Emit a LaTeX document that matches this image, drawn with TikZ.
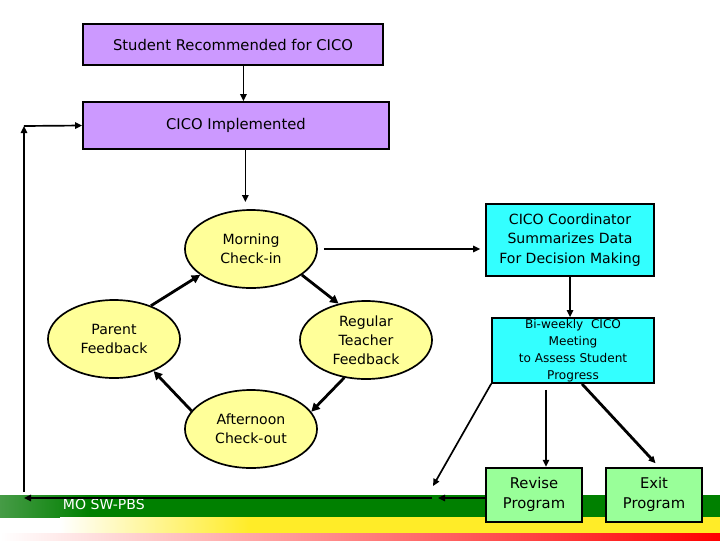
\documentclass[tikz,border=0pt]{standalone}
\usepackage{fontspec}
\setmainfont{DejaVu Sans}
\usetikzlibrary{shapes.geometric,arrows.meta}

\definecolor{lavender}{RGB}{204,153,255}
\definecolor{aqua}{RGB}{51,255,255}
\definecolor{paleyellow}{RGB}{255,255,153}
\definecolor{palegreen}{RGB}{153,255,153}
\definecolor{bandgreen}{RGB}{0,128,0}
\definecolor{bandyellow}{RGB}{255,236,40}

\tikzstyle{purplebox}=[draw=black, line width=1.2pt, fill=lavender, font=\fontsize{10.5}{14}\selectfont]
\tikzstyle{cyanbox}=[draw=black, line width=1.2pt, fill=aqua, align=center, inner sep=0pt]
\tikzstyle{greenbox}=[draw=black, line width=1.2pt, fill=palegreen, align=center, minimum width=2.4cm, minimum height=1.35cm, font=\fontsize{10.5}{14}\selectfont]
\tikzstyle{oval}=[ellipse, draw=black, line width=1.2pt, fill=paleyellow, align=center, inner sep=0pt, minimum width=3.3cm, minimum height=1.95cm, font=\fontsize{10}{13.5}\selectfont]
\tikzstyle{arr}=[line width=1.2pt, -{Triangle[length=5pt,width=4.5pt]}]
\tikzstyle{cyclearr}=[line width=2pt, -{Triangle[length=6pt,width=6pt]}]

\begin{document}
\begin{tikzpicture}[x=0.025cm, y=-0.025cm]
\useasboundingbox (0,0) rectangle (720,540);

% bands at the foot
\fill[bandgreen] (0,495) rectangle (720,517);
\shade[left color={rgb,255:red,70;green,155;blue,70}, right color=bandgreen] (0,495) rectangle (90,517);
\shade[left color=white, right color=bandyellow] (60,517) rectangle (250,533);
\fill[bandyellow] (250,517) rectangle (720,533);
\shade[left color=white, middle color={rgb,255:red,255;green,175;blue,175}, right color=red] (0,533) rectangle (720,540);
\node[anchor=west, text=white, font=\fontsize{10}{12}\selectfont] (logo) at (58,504) {MO SW-PBS};

% boxes
\node [purplebox, minimum width=7.5cm, minimum height=1.025cm] (recommend) at (233,44.5) {Student Recommended for CICO};
\node [purplebox, minimum width=7.65cm, minimum height=1.175cm] (implement) at (236,125.5) {CICO Implemented};
\node [cyanbox, minimum width=4.2cm, minimum height=1.8cm, font=\fontsize{10}{14}\selectfont] (summary) at (570,240) {CICO Coordinator\\Summarizes Data\\For Decision Making};
\node [cyanbox, minimum width=4.05cm, minimum height=1.625cm, font=\fontsize{8.6}{12}\selectfont] (meeting) at (573,350.5) {Bi-weekly\ \ CICO\\Meeting\\to Assess Student\\Progress};
\node [greenbox] (revise) at (534,494.7) {Revise\\Program};
\node [greenbox] (exit) at (654,494.7) {Exit\\Program};

% daily cycle
\node [oval] (morning) at (251,249) {Morning\\Check-in};
\node [oval] (teacher) at (366,340) {Regular\\Teacher\\Feedback};
\node [oval] (afternoon) at (251,429) {Afternoon\\Check-out};
\node [oval] (parent) at (114,339) {Parent\\Feedback};

\coordinate (ret) at (438,498);
\coordinate (back) at (432,498);
\coordinate (home) at (24,498);
\coordinate (up) at (24,492);
\coordinate (corner) at (24,126);
\coordinate (drop) at (433,486);

\draw [arr] (recommend.-64) -- (recommend.-64 |- implement.north);
\draw [arr, shorten >=5pt] (implement.-69) -- (implement.-69 |- morning.north);
\draw [arr, shorten <=4.3pt, shorten >=3.5pt] (morning.east) -- (summary.west |- morning.east);
\draw [arr] (summary.south) -- (summary.south |- meeting.north);

\draw [cyclearr] (morning.-27) -- (teacher.127);
\draw [cyclearr] (teacher.240) -- (afternoon.16);
\draw [cyclearr] (afternoon.163) -- (parent.-39);
\draw [cyclearr] (parent.42) -- (morning.207);

\draw [arr] (meeting.south west) -- (drop);
\draw [arr, shorten <=4.3pt] (meeting.-129) -- (meeting.-129 |- revise.north);
\draw [arr, line width=2pt, shorten >=3.5pt] (meeting.-75) -- (exit.80);

\draw [arr] (revise.west |- ret) -- (ret);
\draw [arr] (back) -- (home);
\draw [arr] (up) -- (corner);
\draw [arr] (corner) -- (implement.west);
\end{tikzpicture}
\end{document}
